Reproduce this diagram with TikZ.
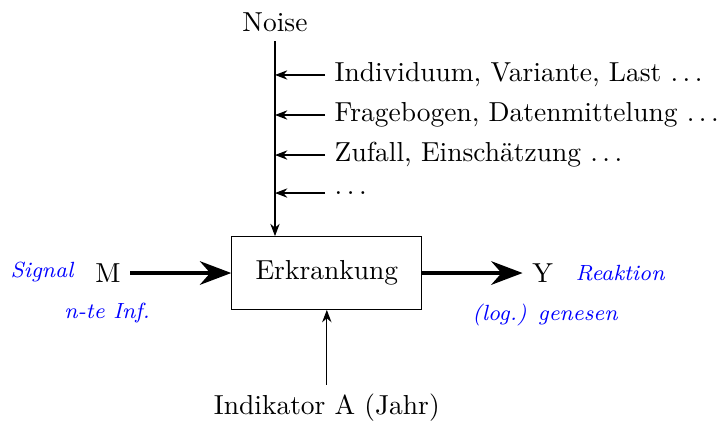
\documentclass[tikz,border=0pt]{standalone}
\usepackage{tikz}
\usetikzlibrary{arrows.meta,positioning}
\tikzset{
  sysbox/.style={
    draw,
    minimum width=2.43cm,
    minimum height=0.93cm,
    align=center
  },
  notelabel/.style={
    text=blue,
    font=\footnotesize\itshape
  },
  bigarrow/.style={
    -{Stealth[length=4mm,width=3mm]},
    line width=1.6pt
  },
  arrow/.style={
    -{Stealth[length=4.5pt,width=3.4pt]}
  }
}
\begin{document}
\begin{tikzpicture}
  \useasboundingbox (0,0) rectangle (9.247,5.436);
  \node[sysbox] (disease) at (4.18,1.944) {Erkrankung};
  \node (noise) at (3.517,5.154) {Noise};
  \node (signal) at (1.38,1.944) {M};
  \node (reaction) at (6.94,1.944) {Y};
  \node (indicator) at (4.18,0.217) {Indikator A (Jahr)};
  \node[notelabel] (signaltxt) at (0.537,1.957) {Signal};
  \node[notelabel] (infotxt) at (1.37,1.432) {n-te Inf.};
  \node[notelabel] (reactiontxt) at (7.93,1.944) {Reaktion};
  \node[notelabel] (recovertxt) at (6.97,1.407) {(log.) genesen};
  % noise sources
  \foreach \i/\y/\txt in {1/4.477/{Individuum, Variante, Last $\ldots$},
                          2/3.965/{Fragebogen, Datenmittelung $\ldots$},
                          3/3.453/{Zufall, Einsch\"atzung $\ldots$},
                          4/2.967/{$\ldots$}} {
    \coordinate (n\i) at (3.517,\y);
    \node[anchor=west] (src\i) at (4.157,\y) {\txt};
    \draw[arrow] (src\i.west) -- (n\i);
  }
  \draw[arrow] (noise.south) -- (noise.south |- disease.north);
  \draw[bigarrow] (signal) -- (disease);
  \draw[bigarrow] (disease) -- (reaction);
  \draw[arrow] (indicator) -- (disease);
\end{tikzpicture}
\end{document}
